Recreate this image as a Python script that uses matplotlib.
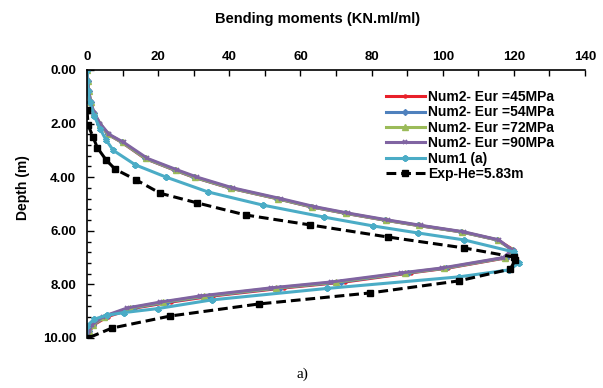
import matplotlib
matplotlib.use("Agg")
import matplotlib.pyplot as plt
from matplotlib.ticker import MultipleLocator, FormatStrFormatter

# depth (m) and bending moment (KN.ml/ml)
depth_num2 = [0, 0.4, 0.8, 1.2, 1.6, 2.0, 2.4, 2.7, 3.3, 3.73, 4.0, 4.4, 4.8, 5.1,
              5.34, 5.6, 5.8, 6.04, 6.34, 6.72, 7.0, 7.39, 7.57, 7.91, 8.13, 8.43,
              8.66, 8.88, 9.2, 9.5, 9.75, 10.0]
m_eur45 = [0, 0.2, 0.5, 1.0, 1.9, 3.5, 5.9, 9.8, 16.3, 24.5, 30.0, 40.0, 53.4, 62.8,
           72.3, 83.6, 93.0, 105.2, 115.4, 120.0, 118.2, 101.5, 91.0, 72.5, 55.5, 35.5,
           23.5, 13.5, 5.8, 2.0, 0.7, 0]
m_eur54 = [0, 0.2, 0.5, 1.0, 1.9, 3.5, 5.9, 9.9, 16.4, 24.6, 30.1, 40.1, 53.5, 62.9,
           72.4, 83.7, 93.1, 105.2, 115.3, 119.7, 117.8, 101.0, 90.2, 71.3, 54.2, 34.2,
           22.5, 12.8, 5.3, 1.8, 0.6, 0]
m_eur72 = [0, 0.2, 0.5, 1.0, 1.9, 3.6, 6.0, 10.0, 16.6, 24.9, 30.4, 40.4, 53.8, 63.3,
           72.8, 84.0, 93.4, 105.5, 115.5, 119.5, 117.4, 100.4, 89.3, 70.0, 53.0, 33.0,
           21.5, 12.0, 4.9, 1.7, 0.6, 0]
m_eur90 = [0, 0.2, 0.5, 1.0, 2.0, 3.7, 6.2, 10.3, 17.0, 25.4, 31.0, 41.0, 54.5, 64.0,
           73.4, 84.7, 94.0, 106.0, 115.8, 119.5, 117.0, 99.7, 88.4, 68.6, 51.7, 31.9,
           20.6, 11.3, 4.5, 1.5, 0.5, 0]

depth_num1 = [0, 0.4, 0.8, 1.2, 1.7, 2.2, 2.6, 3.0, 3.54, 4.0, 4.55, 5.04, 5.49, 5.82,
              6.08, 6.34, 6.79, 7.2, 7.46, 7.72, 8.15, 8.58, 8.9, 9.05, 9.15, 9.3, 9.55, 10.0]
m_num1 = [0, 0.1, 0.3, 0.8, 2.0, 3.7, 5.3, 7.4, 13.6, 22.3, 34.0, 49.4, 66.7, 80.5,
          93.0, 106.0, 120.0, 121.5, 118.6, 104.5, 67.5, 35.0, 20.0, 10.5, 5.5, 2.0, 0, 0]

depth_exp = [1.5, 2.05, 2.5, 2.9, 3.36, 3.7, 4.1, 4.6, 4.96, 5.41, 5.78, 6.23, 6.64,
             6.98, 7.09, 7.43, 7.87, 8.32, 8.73, 9.18, 9.63, 10.0]
m_exp = [0, 0.3, 1.7, 2.9, 5.4, 7.9, 13.8, 20.6, 31.0, 44.6, 62.7, 84.5, 106.0,
         120.0, 120.4, 119.0, 104.5, 79.5, 48.3, 23.4, 7.0, 0.3]

plt.rcParams["font.family"] = ["Liberation Sans", "DejaVu Sans"]
plt.rcParams["font.weight"] = "bold"

fig = plt.figure(figsize=(6.03, 3.88), dpi=100)
ax = fig.add_axes([87 / 603, 1 - 338 / 388, 498 / 603, 268 / 388])

lw = 2.2
ax.plot(m_eur45, depth_num2, color="#E8202A", lw=lw, marker="o", ms=2.2,
        label="Num2- Eur =45MPa")
ax.plot(m_eur54, depth_num2, color="#4F81BD", lw=lw, marker="D", ms=3,
        label="Num2- Eur =54MPa")
ax.plot(m_eur72, depth_num2, color="#9BBB59", lw=lw, marker="^", ms=4,
        label="Num2- Eur =72MPa")
ax.plot(m_eur90, depth_num2, color="#8064A2", lw=lw, marker="x", ms=3.5, mew=1.3,
        label="Num2- Eur =90MPa")
ax.plot(m_num1, depth_num1, color="#4BACC6", lw=lw, marker=(6, 2, 0), ms=4.5, mew=1.6,
        label="Num1 (a)")
ax.plot(m_exp, depth_exp, color="black", lw=2.2, ls=(0, (3.2, 1.6)), marker="s", ms=4.2,
        label="Exp-He=5.83m")

ax.set_xlim(0, 140)
ax.set_ylim(10, 0)
ax.xaxis.set_major_locator(MultipleLocator(20))
ax.xaxis.set_minor_locator(MultipleLocator(10))
ax.yaxis.set_major_locator(MultipleLocator(2))
ax.yaxis.set_minor_locator(MultipleLocator(0.4))
ax.yaxis.set_major_formatter(FormatStrFormatter("%.2f"))

ax.xaxis.tick_top()
ax.spines["bottom"].set_visible(False)
ax.spines["right"].set_visible(False)
ax.spines["top"].set_linewidth(1.2)
ax.spines["left"].set_linewidth(1.2)
ax.tick_params(axis="both", which="both", direction="in", labelsize=9.5, width=1)
ax.tick_params(axis="x", which="major", length=4, pad=5)
ax.tick_params(axis="x", which="minor", length=4)
ax.tick_params(axis="y", which="major", length=5, pad=8)
ax.tick_params(axis="y", which="minor", length=3)

ax.set_ylabel("Depth (m)", fontsize=10, fontweight="bold")
ax.yaxis.set_label_coords(-0.115, 0.56)
fig.text(318 / 603, 1 - 19 / 388, "Bending moments (KN.ml/ml)", ha="center", va="center",
         fontsize=10.5, fontweight="bold")
fig.text(302 / 603, 1 - 374 / 388, "a)", ha="center", va="center", fontsize=11,
         fontweight="normal", family="Liberation Serif")

ax.legend(loc="upper left", bbox_to_anchor=((386 - 87) / 498, 1 - 20 / 268), frameon=False,
          fontsize=10, handlelength=2.8, handletextpad=0.2, labelspacing=0.1,
          borderaxespad=0, borderpad=0)

fig.savefig("out.png", dpi=100)
